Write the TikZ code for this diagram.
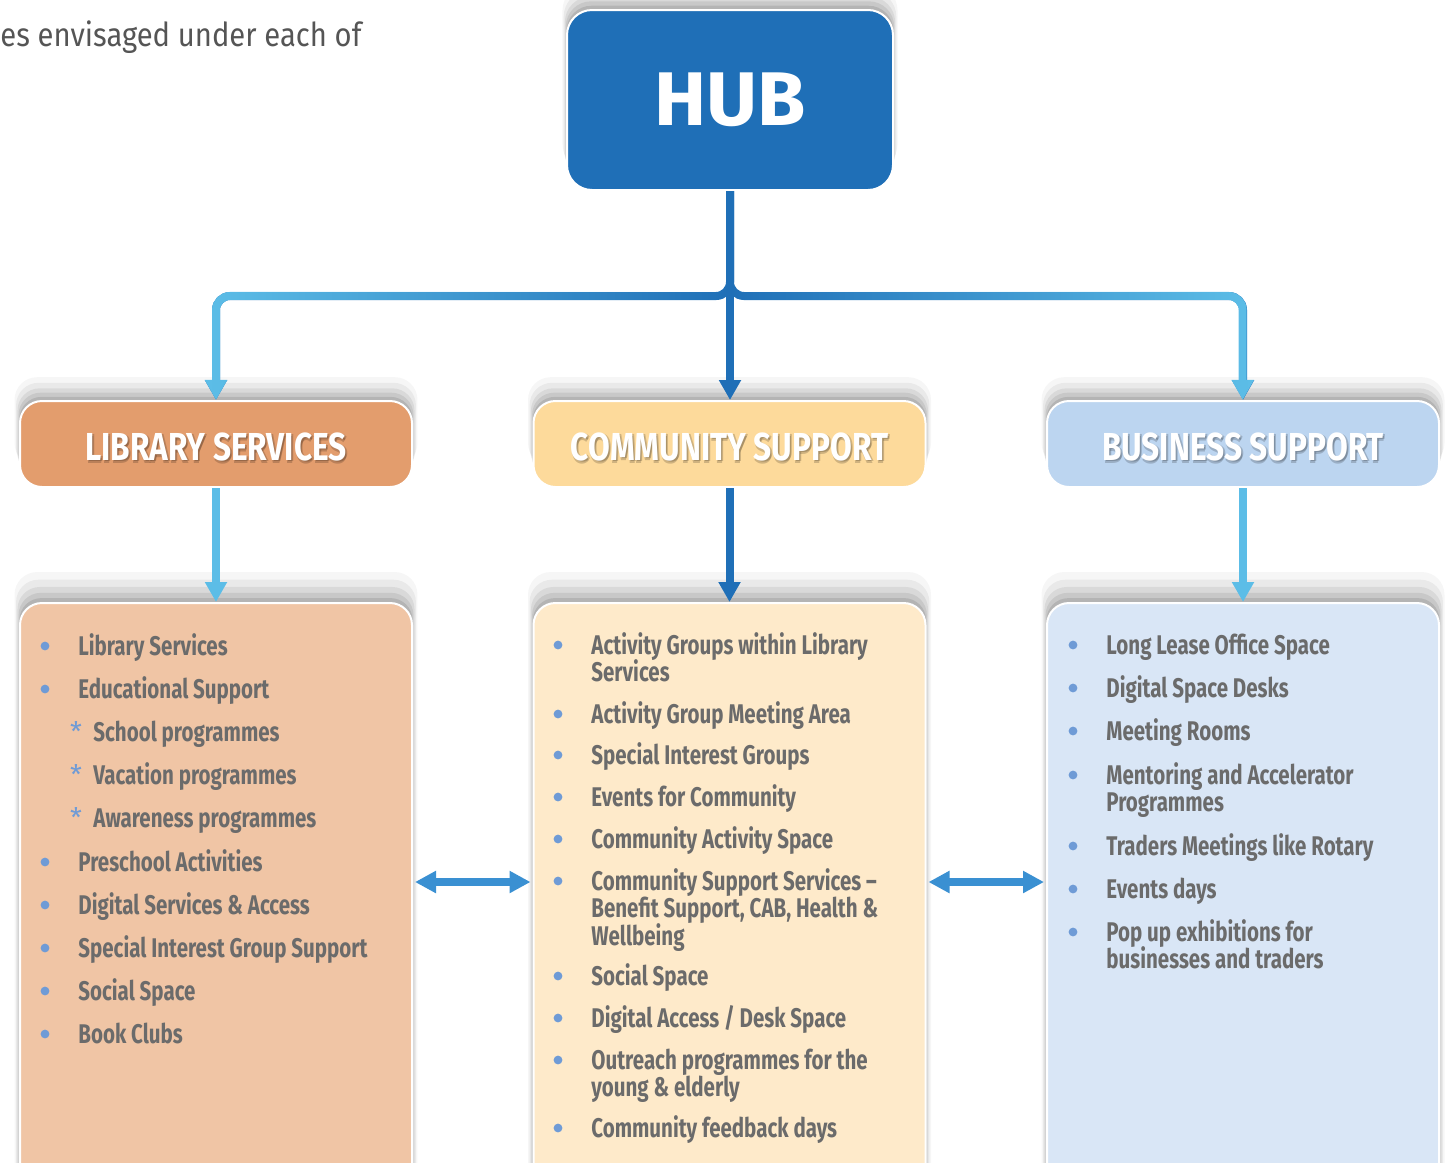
\documentclass[tikz,border=0pt]{standalone}
\usepackage{fontspec}
\setmainfont{Fira Sans}
\newfontfamily\condfont{Fira Sans}[FakeStretch=0.76]
\newfontfamily\headfont{Fira Sans}[FakeStretch=0.81]
\newfontfamily\hubfont{Fira Sans}[FakeStretch=1.03]
\newfontfamily\leadfont{Fira Sans}[FakeStretch=0.885]
\usetikzlibrary{positioning, arrows.meta, shadows, fadings}

\definecolor{hubblue}{HTML}{1F6FB7}
\definecolor{skyblue}{HTML}{5CBDE7}
\definecolor{linkblue}{HTML}{3A90D2}
\definecolor{libhead}{HTML}{E39D6D}
\definecolor{libbody}{HTML}{F0C5A5}
\definecolor{comhead}{HTML}{FDDA9B}
\definecolor{combody}{HTML}{FEEACA}
\definecolor{bushead}{HTML}{BCD5F0}
\definecolor{busbody}{HTML}{D9E6F6}
\definecolor{itemgrey}{HTML}{6B6B6B}
\definecolor{dotblue}{HTML}{6F9BD6}
\definecolor{leadgrey}{HTML}{555555}

\lineskiplimit=-10pt
\newcommand{\itemstrut}{\rule{0pt}{11pt}}
\newcommand{\staritem}{\itemstrut\llap{{\normalfont\textcolor{dotblue}{*}}\hspace{5.7pt}}}

\begin{document}
\begin{tikzpicture}[x=0.5pt, y=-0.5pt,
    boxshadow/.style={general shadow={fill=black, opacity=.035, shadow yshift=11pt, shadow scale=1.028},
                      general shadow={fill=black, opacity=.05, shadow yshift=8.5pt, shadow scale=1.02},
                      general shadow={fill=black, opacity=.065, shadow yshift=6pt, shadow scale=1.013},
                      general shadow={fill=black, opacity=.08, shadow yshift=4pt, shadow scale=1.007},
                      general shadow={fill=black, opacity=.1, shadow yshift=2pt, shadow scale=1.003}},
    card/.style={draw=white, line width=1pt, rounded corners=11pt, fill=#1, boxshadow,
                 minimum width=196pt, inner sep=0pt},
    head/.style={card=#1, minimum height=43pt},
    body/.style={card=#1, minimum height=298.5pt},
    headtext/.style={inner sep=0pt, text=white, font=\headfont\bfseries\fontsize{19.5}{20}\selectfont},
    headshade/.style={headtext, text=black, opacity=.18},
    item/.style={anchor=north west, inner sep=0pt, align=left, text=itemgrey,
                 font=\condfont\bfseries\fontsize{13.5}{13.7}\selectfont},
    dot/.style={fill=dotblue},
    flow/.style={line width=4pt, -{Triangle[width=10.5pt,length=10pt]}},
    twoway/.style={line width=4pt, linkblue, shorten <=1pt, shorten >=1pt,
                   {Triangle[width=10.5pt,length=10.5pt]}-{Triangle[width=10.5pt,length=10.5pt]}},
]
\useasboundingbox (0,0) rectangle (1454,1162);

% Leading sentence fragment
\node[anchor=base west, inner sep=0pt, text=leadgrey, font=\leadfont\fontsize{16.5}{16.5}\selectfont]
    (lead) at (0,46) {es envisaged under each of};

% Hub
\node[card=hubblue, minimum width=163pt, minimum height=90pt, rounded corners=12.5pt,
      text=white, font=\hubfont\bfseries\fontsize{38}{38}\selectfont] (hub) at (730,100) {HUB};

% Three pillars: header and list box
\foreach \n/\x/\hc/\bc/\t in {lib/216/libhead/libbody/LIBRARY SERVICES,
                              com/729.5/comhead/combody/COMMUNITY SUPPORT,
                              bus/1243/bushead/busbody/BUSINESS SUPPORT} {
    \node[head=\hc] (\n) at (\x,444) {};
    \node[headshade] (\n shade) at ([xshift=0.5pt, yshift=-3pt]\n.center) {\t};
    \node[headshade] (\n glow) at ([xshift=1pt, yshift=-2pt]\n.center) {\t};
    \node[headtext] (\n text) at ([yshift=-1.5pt]\n.center) {\t};
    \node[body=\bc] (\n body) at (\x,901.5) {};
}

% Hub to pillars
\coordinate (fork) at ([yshift=-52.5pt]hub.south);
\draw[flow, hubblue, rounded corners=7pt] (hub.south) -- (fork) -| (lib.north);
\draw[flow, skyblue, rounded corners=7pt, path fading=east] (hub.south) -- (fork) -| (lib.north);
\draw[flow, hubblue, rounded corners=7pt] (hub.south) -- (fork) -| (bus.north);
\draw[flow, skyblue, rounded corners=7pt, path fading=west] (hub.south) -- (fork) -| (bus.north);
\draw[flow, hubblue] (hub.south) -- (hub.south |- com.north);

% Header to list
\foreach \n/\c in {lib/skyblue, com/hubblue, bus/skyblue} {
    \draw[flow, \c] (\n.south) -- (\n body.north);
}

% Links between pillars
\draw[twoway] ([yshift=9.75pt]libbody.east) -- ([yshift=9.75pt]combody.west);
\draw[twoway] ([yshift=9.75pt]combody.east) -- ([yshift=9.75pt]busbody.west);

% Library services list
\foreach \y/\t [count=\i] in {633/Library Services,
                              676/Educational Support,
                              849/Preschool Activities,
                              892/Digital Services \& Access,
                              935/Special Interest Group Support,
                              978/Social Space,
                              1021/Book Clubs} {
    \node[item] (libitem\i) at (78,\y) {\itemstrut\t};
    \fill[dot] ([xshift=-16.5pt, yshift=-6.5pt]libitem\i.north west) circle (2.2pt);
}
\foreach \y/\t [count=\i] in {719/School programmes,
                              762/Vacation programmes,
                              805/Awareness programmes} {
    \node[item] (libsub\i) at (93,\y) {\staritem\t};
}

% Community support list
\foreach \y/\t [count=\i] in {632/{Activity Groups within Library\\Services},
                              701/{Activity Group Meeting Area},
                              742/{Special Interest Groups},
                              784/{Events for Community},
                              826/{Community Activity Space},
                              868/{Community Support Services –\\Benefit Support, CAB, Health \&\\Wellbeing},
                              963/{Social Space},
                              1005/{Digital Access / Desk Space},
                              1047/{Outreach programmes for the\\young \& elderly},
                              1115/{Community feedback days}} {
    \node[item] (comitem\i) at (591,\y) {\itemstrut\t};
    \fill[dot] ([xshift=-16.5pt, yshift=-6.5pt]comitem\i.north west) circle (2.2pt);
}

% Business support list
\foreach \y/\t [count=\i] in {632/{Long Lease Office Space},
                              675/{Digital Space Desks},
                              718/{Meeting Rooms},
                              762/{Mentoring and Accelerator\\Programmes},
                              833/{Traders Meetings like Rotary},
                              876/{Events days},
                              919/{Pop up exhibitions for\\businesses and traders}} {
    \node[item] (busitem\i) at (1106,\y) {\itemstrut\t};
    \fill[dot] ([xshift=-16.5pt, yshift=-6.5pt]busitem\i.north west) circle (2.2pt);
}

\end{tikzpicture}
\end{document}
